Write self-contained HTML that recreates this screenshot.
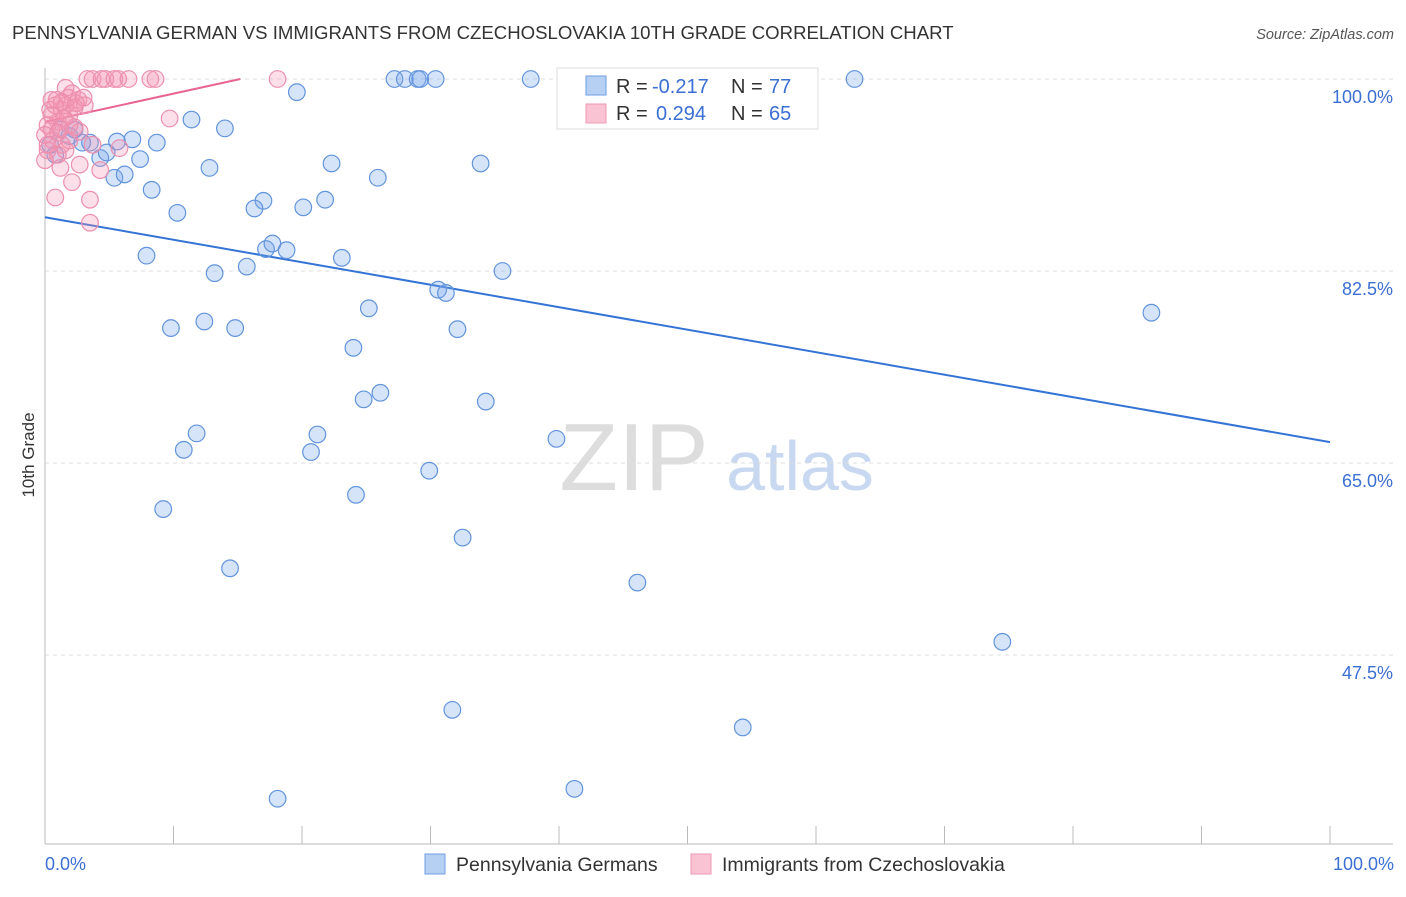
<!DOCTYPE html>
<html><head><meta charset="utf-8"><style>
body{margin:0;background:#fff;font-family:"Liberation Sans",sans-serif}
svg text{font-family:"Liberation Sans",sans-serif}
</style></head><body>
<svg id="chart" width="1406" height="892" xmlns="http://www.w3.org/2000/svg">
<text x="12" y="39" font-size="18.6" fill="#333">PENNSYLVANIA GERMAN VS IMMIGRANTS FROM CZECHOSLOVAKIA 10TH GRADE CORRELATION CHART</text>
<text x="1394" y="39" font-size="14.5" fill="#555" font-style="italic" text-anchor="end">Source: ZipAtlas.com</text>
<text transform="translate(34,455) rotate(-90)" font-size="17" fill="#333" text-anchor="middle">10th Grade</text>
<g><text x="634" y="490" font-size="96" fill="#ddd" font-family="Liberation Serif" text-anchor="middle">ZIP</text><text x="800" y="490" font-size="70" fill="#c8d8f0" text-anchor="middle">atlas</text></g>
<g id="grid"></g><g id="axes"></g><g id="trend"></g><g id="pts"></g>
<g>
<rect x="557" y="68" width="261" height="61" fill="#fff" stroke="#ddd"/>
<rect x="586" y="76" width="20" height="19" fill="#b6d0f4" stroke="#6f9ee0"/>
<rect x="586" y="104" width="20" height="19" fill="#f9c3d3" stroke="#ee9ab5"/>
<text x="616" y="93" font-size="20" fill="#333">R =</text>
<text x="652" y="93" font-size="20" fill="#3b6fd4">-0.217</text>
<text x="731" y="93" font-size="20" fill="#333">N =</text>
<text x="769" y="93" font-size="20" fill="#3b6fd4">77</text>
<text x="616" y="120" font-size="20" fill="#333">R =</text>
<text x="656" y="120" font-size="20" fill="#3b6fd4">0.294</text>
<text x="731" y="120" font-size="20" fill="#333">N =</text>
<text x="769" y="120" font-size="20" fill="#3b6fd4">65</text>
</g>
<g>
<rect x="425" y="854" width="20" height="20" fill="#b6d0f4" stroke="#6f9ee0"/>
<text x="456" y="871" font-size="19.5" fill="#333">Pennsylvania Germans</text>
<rect x="691" y="854" width="20" height="20" fill="#f9c3d3" stroke="#ee9ab5"/>
<text x="722" y="871" font-size="19.5" fill="#333">Immigrants from Czechoslovakia</text>
</g>
</svg>
<script>
const yTicks=[100,82.5,65,47.5];
const yTickLabels=["100.0%","82.5%","65.0%","47.5%"];
const xTickLabels=["0.0%","100.0%"];
const blueX=[43.6,27.2,28.0,29.0,29.2,30.4,37.8,46.8,50.0,57.4,58.8,63.0,19.6,11.4,14.0,3.5,5.6,6.8,8.7,2.9,1.9,4.3,4.8,7.4,5.4,6.2,12.8,22.3,33.9,25.9,8.3,17.0,16.3,20.1,21.8,10.3,7.9,17.2,17.7,18.8,23.1,13.2,15.7,35.6,30.6,31.2,25.2,9.8,12.4,14.8,32.1,24.0,26.1,24.8,34.3,86.1,11.8,21.2,10.8,20.7,39.8,29.9,24.2,9.2,32.5,14.4,46.1,74.5,31.7,54.3,41.2,18.1,0.4,1.2,2.3,0.8];
const blueY=[100,100,100,100,100,100,100,100,100,100,100,100,98.8,96.3,95.5,94.2,94.3,94.5,94.2,94.2,94.8,92.8,93.3,92.7,91.0,91.3,91.9,92.3,92.3,91.0,89.9,88.9,88.2,88.3,89.0,87.8,83.9,84.5,85.0,84.4,83.7,82.3,82.9,82.5,80.8,80.5,79.1,77.3,77.9,77.3,77.2,75.5,71.4,70.8,70.6,78.7,67.7,67.6,66.2,66.0,67.2,64.3,62.1,60.8,58.2,55.4,54.1,48.7,42.5,40.9,35.3,34.4,94.0,95.4,95.4,93.1];
const pinkX=[3.3,3.7,4.4,4.7,5.4,5.7,6.5,8.2,8.6,18.1,1.6,2.1,2.6,3.1,0.8,1.3,0.5,1.9,1.0,0.2,0.5,1.2,2.3,2.7,9.7,0.6,1.3,0.2,1.0,1.9,3.7,5.8,4.3,2.7,2.1,1.2,0.8,3.5,3.5,1.6,2.3,0.4,0.9,1.5,0,0.2,1.8,2.4,3.0,1.0,1.6,0,0.5,1.9,1.3];
const pinkY=[100,100,100,100,100,100,100,100,100,100,99.2,98.7,98.1,97.6,97.6,97.2,96.7,96.7,96.1,95.8,95.4,95.5,95.6,95.2,96.4,94.4,94.0,93.5,93.1,94.4,94.0,93.7,91.7,92.2,90.6,91.9,89.2,89.0,86.9,97.6,97.4,97.2,98.1,96.4,94.9,94.0,98.3,97.8,98.3,95.1,93.5,92.6,98.1,95.8,97.9];
const blueTrend=[87.4,66.9];
const pinkTrend=[96.1,100,15.2];
const NS="http://www.w3.org/2000/svg";
const X=v=>45+v*12.85, Y=v=>79+(100-v)*192/17.5;
function mk(t,a,p){const e=document.createElementNS(NS,t);for(const k in a)e.setAttribute(k,a[k]);document.getElementById(p).appendChild(e);return e;}
yTicks.forEach((t,i)=>{
 const g=mk('line',{x1:45,x2:1393,y1:Y(t),y2:Y(t),stroke:'#ddd','stroke-dasharray':'4,4'},'grid');
 
 
 const l=mk('text',{x:1393,y:Y(t)+24,'font-size':18,fill:'#3b6fd4','text-anchor':'end'},'grid');
 l.textContent=yTickLabels[i];
 
 
});
mk('line',{x1:45,x2:45,y1:68,y2:844,stroke:'#bbb'},'axes');
mk('line',{x1:45,x2:1393,y1:844,y2:844,stroke:'#bbb'},'axes');
for(let i=0;i<=10;i++){const t=mk('line',{x1:X(i*10),x2:X(i*10),y1:826,y2:844,stroke:'#bbb'},'axes');
 
 }
[[0,'start',45],[100,'end',1394]].forEach((d,i)=>{const l=mk('text',{x:d[2],y:870,'font-size':18,fill:'#3b6fd4','text-anchor':d[1]},'axes');l.textContent=xTickLabels[i];
 
 });
blueX.forEach((x,i)=>{const c=mk('circle',{cx:X(x),cy:Y(blueY[i]),r:8.3,fill:'rgba(120,165,235,0.3)',stroke:'#6294dc','stroke-width':1.2},'pts');
 
 });
pinkX.forEach((x,i)=>{const c=mk('circle',{cx:X(x),cy:Y(pinkY[i]),r:8.3,fill:'rgba(244,150,180,0.3)',stroke:'#ec8fae','stroke-width':1.2},'pts');
 
 });
const bt=mk('line',{x1:X(0),y1:Y(blueTrend[0]),x2:X(100),y2:Y(blueTrend[1]),stroke:'#3374d6','stroke-width':2},'trend');


const pt=mk('line',{x1:X(0),y1:Y(pinkTrend[0]),x2:X(pinkTrend[2]),y2:Y(pinkTrend[1]),stroke:'#e8658f','stroke-width':2},'trend');


</script>
</body></html>
